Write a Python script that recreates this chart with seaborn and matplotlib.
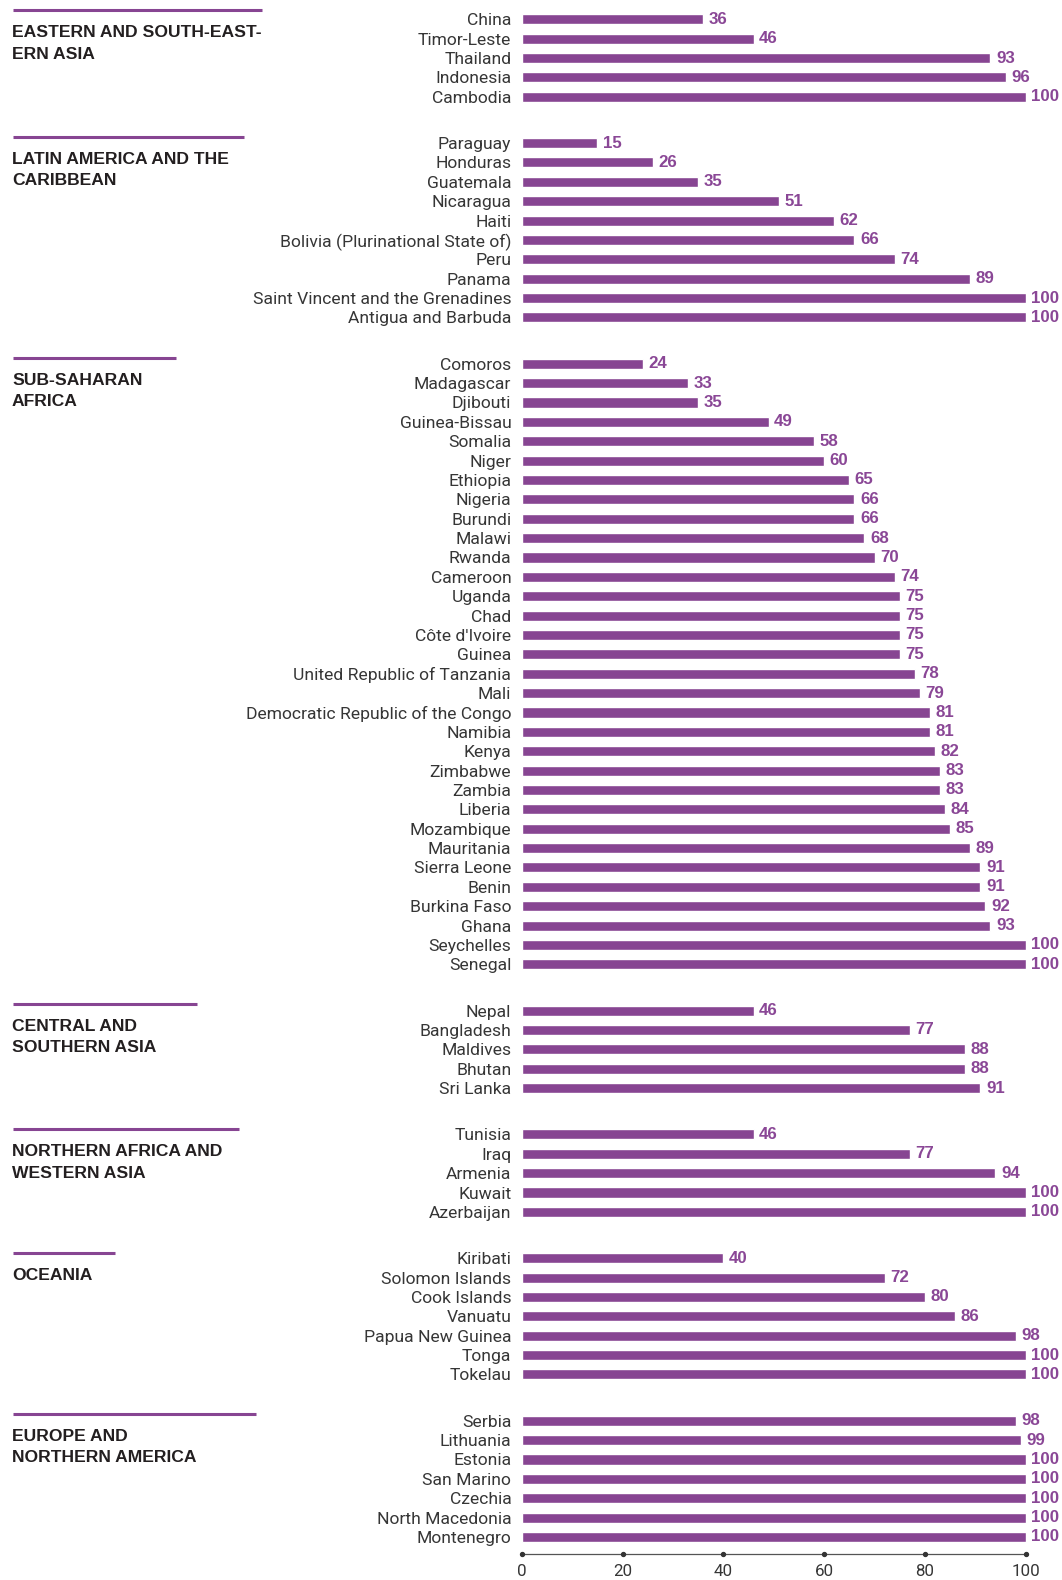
import matplotlib
matplotlib.use("Agg")

import numpy as np
import pandas as pd
import matplotlib.pyplot as plt
import matplotlib.transforms as mtransforms
import seaborn as sns

# ==============================
# DATA
# ==============================
regions = [
    "EASTERN AND SOUTH-EAST-\nERN ASIA",
    "LATIN AMERICA AND THE\nCARIBBEAN",
    "SUB-SAHARAN\nAFRICA",
    "CENTRAL AND\nSOUTHERN ASIA",
    "NORTHERN AFRICA AND\nWESTERN ASIA",
    "OCEANIA",
    "EUROPE AND\nNORTHERN AMERICA",
]

east_asia = ["China", "Timor-Leste", "Thailand", "Indonesia", "Cambodia"]
east_asia_vals = [36, 46, 93, 96, 100]

latin_america = ["Paraguay", "Honduras", "Guatemala", "Nicaragua", "Haiti",
                 "Bolivia (Plurinational State of)", "Peru", "Panama",
                 "Saint Vincent and the Grenadines", "Antigua and Barbuda"]
latin_america_vals = [15, 26, 35, 51, 62, 66, 74, 89, 100, 100]

ssa = ["Comoros", "Madagascar", "Djibouti", "Guinea-Bissau", "Somalia", "Niger",
       "Ethiopia", "Nigeria", "Burundi", "Malawi", "Rwanda", "Cameroon", "Uganda",
       "Chad", "Côte d'Ivoire", "Guinea", "United Republic of Tanzania", "Mali",
       "Democratic Republic of the Congo", "Namibia", "Kenya", "Zimbabwe", "Zambia",
       "Liberia", "Mozambique", "Mauritania", "Sierra Leone", "Benin",
       "Burkina Faso", "Ghana", "Seychelles", "Senegal"]
ssa_vals = [24, 33, 35, 49, 58, 60, 65, 66, 66, 68, 70, 74, 75, 75, 75, 75, 78, 79,
            81, 81, 82, 83, 83, 84, 85, 89, 91, 91, 92, 93, 100, 100]

south_asia = ["Nepal", "Bangladesh", "Maldives", "Bhutan", "Sri Lanka"]
south_asia_vals = [46, 77, 88, 88, 91]

north_africa = ["Tunisia", "Iraq", "Armenia", "Kuwait", "Azerbaijan"]
north_africa_vals = [46, 77, 94, 100, 100]

oceania = ["Kiribati", "Solomon Islands", "Cook Islands", "Vanuatu",
           "Papua New Guinea", "Tonga", "Tokelau"]
oceania_vals = [40, 72, 80, 86, 98, 100, 100]

europe = ["Serbia", "Lithuania", "Estonia", "San Marino", "Czechia",
          "North Macedonia", "Montenegro"]
europe_vals = [98, 99, 100, 100, 100, 100, 100]

groups = [(east_asia, east_asia_vals), (latin_america, latin_america_vals),
          (ssa, ssa_vals), (south_asia, south_asia_vals),
          (north_africa, north_africa_vals), (oceania, oceania_vals),
          (europe, europe_vals)]

x_ticks = [0, 20, 40, 60, 80, 100]

# ==============================
# LAYOUT / STYLE
# ==============================
PURPLE = "#874592"
LABEL_PURPLE = "#8a4796"
DARK = "#231f20"
TEXT = "#363636"
GAP = 1.39                     # extra rows between regions
ROW_PX = 19.37
# purple rule above each region title: right end and height above first row (px)
rule_ends = [262, 244, 176, 197, 239, 115, 256]
rule_lift = [9.3, 6.5, 6.0, 7.0, 5.5, 5.5, 7.0]

W, H = 1062, 1580
X0, X1 = 521.7, 1025.7         # pixel span of the 0..100 axis
Y_TOP, Y_AXIS = 9.6, 1554

rows = []
first_pos = []
i = 0
for g, (names, vals) in enumerate(groups):
    first_pos.append(i + g * GAP)
    for n, v in zip(names, vals):
        rows.append({"country": n, "value": v, "pos": i + g * GAP, "region": g})
        i += 1
df = pd.DataFrame(rows)

sns.set_theme(style="white")
plt.rcParams["font.family"] = ["Roboto", "DejaVu Sans"]

fig = plt.figure(figsize=(W / 100, H / 100), dpi=100)
ax = fig.add_axes([X0 / W, 1 - Y_AXIS / H, (X1 - X0) / W, (Y_AXIS - Y_TOP) / H])

sns.barplot(data=df, x="value", y="pos", orient="y", native_scale=True,
            color=PURPLE, saturation=1, width=0.52, ax=ax)

ax.bar_label(ax.containers[0], padding=4, fontsize=12.2, fontweight="bold",
             color=LABEL_PURPLE, family=["Liberation Sans", "DejaVu Sans"])

ax.set_xlim(0, 100)
ax.set_ylim(df["pos"].max() + 0.878, -0.5)
ax.set_yticks(df["pos"])
ax.set_yticklabels(df["country"], fontsize=12.6, color=TEXT)
ax.tick_params(axis="y", length=0, pad=7.5)
ax.set_xticks(x_ticks)
ax.set_xticklabels([str(t) for t in x_ticks], fontsize=12.2, color=TEXT)
ax.tick_params(axis="x", length=0, pad=7.5)
ax.set_xlabel("")
ax.set_ylabel("")

for s in ["top", "right", "left"]:
    ax.spines[s].set_visible(False)
ax.spines["bottom"].set_color("#555555")
ax.spines["bottom"].set_linewidth(0.9)
ax.scatter(x_ticks, [ax.get_ylim()[0]] * len(x_ticks), s=8, color="#333333",
           clip_on=False, zorder=5)

# region titles with a purple rule above
trans = mtransforms.blended_transform_factory(fig.transFigure, ax.transData)
for g, title in enumerate(regions):
    y0 = first_pos[g] - rule_lift[g] / ROW_PX
    ax.plot([12.5 / W, rule_ends[g] / W], [y0, y0], transform=trans, color=PURPLE,
            lw=2.2, clip_on=False, solid_capstyle="butt")
    ax.text(12 / W, y0 + 15 / ROW_PX, title, transform=trans, ha="left", va="top",
            fontsize=12.6, fontweight="bold", color=DARK, linespacing=1.555,
            family=["Liberation Sans", "DejaVu Sans"])

fig.savefig("out.png", dpi=100)
plt.close(fig)
